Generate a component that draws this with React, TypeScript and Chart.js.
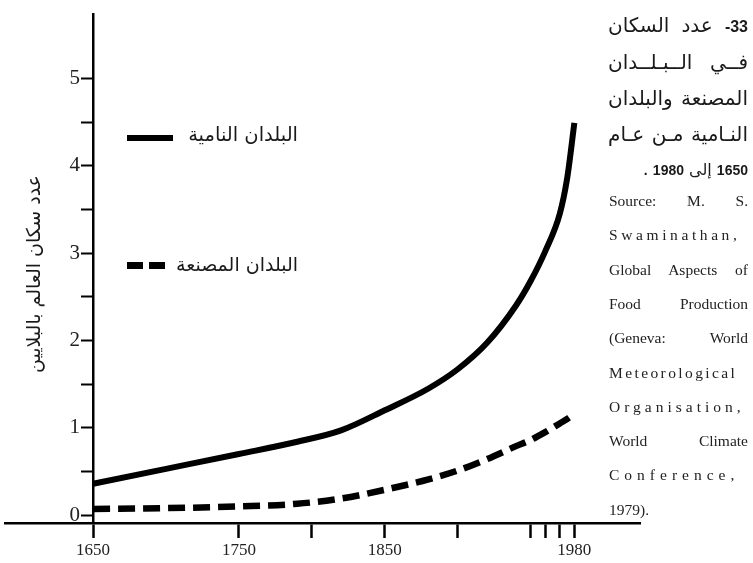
import React, { useEffect, useRef } from "react";
import { Chart, registerables } from "chart.js";

Chart.register(...registerables);

// ---- data ----
const years = [1650, 1700, 1750, 1790, 1820, 1850, 1880, 1900, 1920, 1940, 1950, 1960, 1970, 1975, 1980];
const developing = [0.36, 0.53, 0.7, 0.84, 0.97, 1.2, 1.45, 1.67, 1.97, 2.4, 2.68, 3.02, 3.45, 3.85, 4.49];
const industrial = [0.07, 0.08, 0.1, 0.13, 0.19, 0.29, 0.41, 0.51, 0.64, 0.79, 0.86, 0.95, 1.05, 1.1, 1.16];

const xTickValues = [1650, 1750, 1800, 1850, 1900, 1950, 1960, 1970, 1980];
const xTickLabels = ["1650", "1750", "", "1850", "", "", "", "", "1980"];
const yTickValues = [0, 0.5, 1, 1.5, 2, 2.5, 3, 3.5, 4, 4.5, 5];
const yTickLabels = ["0", "", "1", "", "2", "", "3", "", "4", "", "5"];

const seriesDeveloping = "البلدان النامية";
const seriesIndustrial = "البلدان المصنعة";
const yTitle = "عدد سكان العالم بالبلايين";

const captionNumber = "33-";
const captionLines = ["عدد السكان", "فــي الــبـلــدان", "المصنعة والبلدان", "النـامية مـن عـام"];
const captionYears = ["1650", "إلى", "1980", "."];
const sourceLines = [
  "Source: M. S.",
  "Swaminathan,",
  "Global Aspects of",
  "Food Production",
  "(Geneva: World",
  "Meteorological",
  "Organisation,",
  "World Climate",
  "Conference,",
  "1979).",
];
const sourceSpacing = [0, 3.6, 0, 0, 0, 2.4, 4, 0, 5, 0];

const shiftYLabels = {
  id: "shiftYLabels",
  beforeDraw(chart: any) {
    const s = chart.scales.y;
    if (!s || !s.getLabelItems) return;
    const items = s.getLabelItems();
    items.forEach((it: any) => {
      if (!it.__shifted && it.options && it.options.translation) {
        it.options.translation[0] -= 13;
        it.__shifted = true;
      }
    });
  },
};

export default function App() {
  const ref = useRef<HTMLCanvasElement>(null);

  useEffect(() => {
    if (!ref.current) return;
    const chart = new Chart(ref.current, {
      type: "line",
      data: {
        datasets: [
          {
            label: seriesDeveloping,
            data: years.map((x, i) => ({ x, y: developing[i] })),
            borderColor: "#000",
            borderWidth: 6,
            pointRadius: 0,
            cubicInterpolationMode: "monotone",
            fill: false,
            borderCapStyle: "butt",
          },
          {
            label: seriesIndustrial,
            data: years.map((x, i) => ({ x, y: industrial[i] })),
            borderColor: "#000",
            borderWidth: 6.5,
            borderDash: [17, 8],
            pointRadius: 0,
            cubicInterpolationMode: "monotone",
            fill: false,
            borderCapStyle: "butt",
          },
        ],
      },
      options: {
        responsive: false,
        animation: false,
        layout: { padding: { left: 5, right: 113, top: 5, bottom: 0 } },
        plugins: { legend: { display: false }, tooltip: { enabled: false } },
        scales: {
          x: {
            type: "linear",
            position: "bottom",
            min: 1589.6,
            max: 2025,
            afterBuildTicks: (s: any) => {
              s.ticks = xTickValues.map((v) => ({ value: v }));
            },
            afterFit: (s: any) => {
              s.height = 40;
            },
            ticks: {
              autoSkip: false,
              maxRotation: 0,
              padding: 2,
              color: "#222",
              font: { family: "Liberation Serif", size: 17 },
              callback: (v: any) => {
                const i = xTickValues.indexOf(Number(v));
                return i >= 0 ? xTickLabels[i] : "";
              },
            },
            grid: {
              drawOnChartArea: false,
              drawTicks: true,
              tickLength: 15,
              tickWidth: 2.5,
              tickColor: "#000",
            },
            border: { display: true, color: "#000", width: 2.5 },
          },
          y: {
            type: "linear",
            position: { x: 1650 } as any,
            min: -0.09,
            max: 5.73,
            afterBuildTicks: (s: any) => {
              s.ticks = yTickValues.map((v) => ({ value: v }));
            },
            ticks: {
              autoSkip: false,
              padding: 2,
              color: "#222",
              font: { family: "Liberation Serif", size: 21 },
              callback: (v: any) => {
                const i = yTickValues.indexOf(Number(v));
                return i >= 0 ? yTickLabels[i] : "";
              },
            },
            grid: {
              drawOnChartArea: false,
              drawTicks: true,
              tickLength: 11,
              tickWidth: 2,
              tickColor: "#000",
            },
            border: { display: true, color: "#000", width: 2.5 },
          },
        },
      },
      plugins: [shiftYLabels],
    });
    return () => chart.destroy();
  }, []);

  const arabic = "'DejaVu Sans', 'Noto Sans', sans-serif";
  const serif = "'Liberation Serif', 'DejaVu Serif', serif";
  const digits: React.CSSProperties = { fontFamily: "'Liberation Sans', sans-serif", fontWeight: 700, fontSize: 14 };
  const txt: React.CSSProperties = {
    position: "absolute",
    fontFamily: arabic,
    color: "#1a1a1a",
    whiteSpace: "nowrap",
  };

  return (
    <div style={{ position: "absolute", left: 0, top: 0, width: 753, height: 563, background: "#fff", overflow: "hidden" }}>
      <canvas ref={ref} width={753} height={563} style={{ display: "block", position: "absolute", left: 0, top: 0 }} />

      {/* y axis title */}
      <div
        style={{
          ...txt,
          left: 33 - 120,
          top: 274 - 14,
          width: 240,
          height: 28,
          lineHeight: "28px",
          textAlign: "center",
          transform: "rotate(-90deg)",
          fontSize: 19,
          direction: "rtl",
        }}
      >
        {yTitle}
      </div>

      {/* legend */}
      <div style={{ position: "absolute", left: 127, top: 135, width: 46, height: 6, background: "#000" }} />
      <div style={{ ...txt, left: 178, width: 120, top: 135 - 15, height: 30, lineHeight: "30px", textAlign: "right", direction: "rtl", fontSize: 19.5 }}>
        {seriesDeveloping}
      </div>
      <div style={{ position: "absolute", left: 127, top: 262, width: 16, height: 6.5, background: "#000" }} />
      <div style={{ position: "absolute", left: 149, top: 262, width: 16, height: 6.5, background: "#000" }} />
      <div style={{ ...txt, left: 170, width: 128, top: 264 - 15, height: 30, lineHeight: "30px", textAlign: "right", direction: "rtl", fontSize: 19 }}>
        {seriesIndustrial}
      </div>

      {/* caption (right-to-left paragraph lines) */}
      <div
        style={{
          ...txt,
          left: 608,
          width: 140,
          top: 25 - 16,
          height: 32,
          lineHeight: "32px",
          fontSize: 20,
          direction: "rtl",
          textAlign: "justify",
          textAlignLast: "justify" as any,
        }}
      >
        <span style={{ ...digits, fontWeight: 600, fontSize: 16 }}>{captionNumber}</span> {captionLines[0]}
      </div>
      {captionLines.slice(1).map((t, i) => (
        <div
          key={i}
          style={{
            ...txt,
            left: 608,
            width: 140,
            top: 62 + i * 36 - 16,
            height: 32,
            lineHeight: "32px",
            fontSize: 20,
            direction: "rtl",
            textAlign: "justify",
            textAlignLast: "justify" as any,
          }}
        >
          {t}
        </div>
      ))}
      <div
        style={{
          ...txt,
          left: 600,
          width: 148,
          top: 170 - 16,
          height: 32,
          lineHeight: "32px",
          fontSize: 16,
          direction: "rtl",
          textAlign: "right",
        }}
      >
        <span style={digits}>{captionYears[0]}</span> {captionYears[1]} <span style={digits}>{captionYears[2]}</span>{" "}
        <span style={digits}>{captionYears[3]}</span>
      </div>

      {/* source */}
      {sourceLines.map((t, i) => (
        <div
          key={"s" + i}
          style={{
            position: "absolute",
            left: 609,
            width: 139,
            top: 201 + i * 34.3 - 12,
            height: 24,
            lineHeight: "24px",
            fontFamily: serif,
            fontSize: 15.5,
            color: "#222",
            textAlign: i === sourceLines.length - 1 ? "left" : "justify",
            textAlignLast: (i === sourceLines.length - 1 ? "left" : "justify") as any,
            letterSpacing: sourceSpacing[i],
            whiteSpace: "nowrap",
          }}
        >
          {t}
        </div>
      ))}
    </div>
  );
}
